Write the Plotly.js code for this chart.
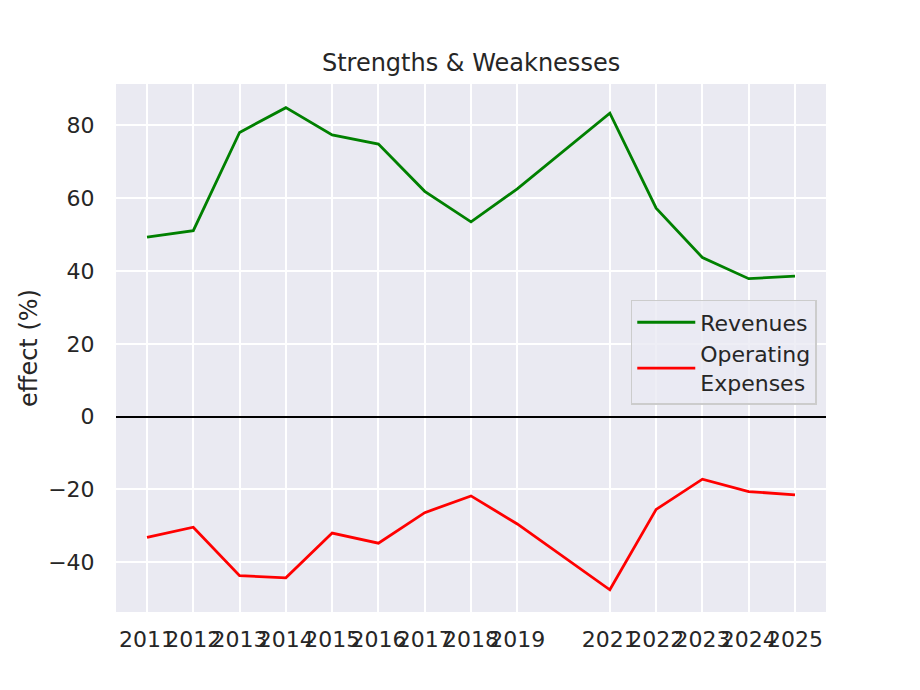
<!DOCTYPE html>
<html>
<head>
<meta charset="utf-8">
<script src="https://cdn.plot.ly/plotly-3.0.1.min.js"></script>
<style>
  html, body { margin: 0; padding: 0; background: #fff; }
  #chart { width: 920px; height: 690px; }
</style>
</head>
<body>
<div id="chart"></div>
<script>
// years shown on the x axis (no 2020 in the data)
const years = [2011, 2012, 2013, 2014, 2015, 2016, 2017, 2018, 2019, 2021, 2022, 2023, 2024, 2025];

// effect in percent
const revenues = [49.3, 51.1, 78.1, 84.9, 77.4, 74.9, 61.9, 53.5, 62.6, 83.4, 57.3, 43.7, 37.9, 38.6];
const operatingExpenses = [-33.2, -30.4, -43.7, -44.3, -32.0, -34.8, -26.4, -21.8, -29.5, -47.6, -25.5, -17.2, -20.6, -21.5];

const textColor = '#262626';
const font = 'DejaVu Sans, sans-serif';

const data = [
  {
    x: years,
    y: revenues,
    type: 'scatter',
    mode: 'lines',
    name: 'Revenues',
    line: { color: 'green', width: 2.8 }
  },
  {
    x: years,
    y: operatingExpenses,
    type: 'scatter',
    mode: 'lines',
    name: 'Operating<br>Expenses',
    line: { color: 'red', width: 2.8 }
  }
];

const layout = {
  width: 920,
  height: 690,
  paper_bgcolor: '#ffffff',
  plot_bgcolor: '#EAEAF2',
  font: { family: font, size: 22, color: textColor },
  margin: { l: 116, r: 94, t: 84, b: 78 },
  title: {
    text: 'Strengths & Weaknesses',
    font: { size: 24, color: textColor },
    x: 0.512,
    xanchor: 'center',
    y: 0.91,
    yanchor: 'middle'
  },
  xaxis: {
    range: [2010.33, 2025.67],
    tickmode: 'array',
    tickvals: years,
    ticktext: years.map(String),
    tickangle: 0,
    showgrid: true,
    gridcolor: '#ffffff',
    gridwidth: 2,
    zeroline: false,
    ticks: 'outside',
    ticklen: 8,
    tickcolor: 'rgba(0,0,0,0)',
    tickfont: { size: 22, color: textColor },
    automargin: false
  },
  yaxis: {
    range: [-53.7, 91.4],
    tickmode: 'linear',
    tick0: 0,
    dtick: 20,
    showgrid: true,
    gridcolor: '#ffffff',
    gridwidth: 2,
    zeroline: true,
    zerolinecolor: '#000000',
    zerolinewidth: 2,
    ticks: 'outside',
    ticklen: 16,
    tickcolor: 'rgba(0,0,0,0)',
    tickfont: { size: 22, color: textColor },
    title: { text: 'effect (%)', font: { size: 24, color: textColor }, standoff: 3 },
    automargin: false
  },
  legend: {
    x: 0.987,
    y: 0.591,
    xanchor: 'right',
    yanchor: 'top',
    bgcolor: 'rgba(234,234,242,0.8)',
    bordercolor: '#cccccc',
    borderwidth: 1.5,
    font: { size: 22, color: textColor },
    itemwidth: 58,
    tracegroupgap: 0
  },
  showlegend: true
};

Plotly.newPlot('chart', data, layout, { displayModeBar: false, staticPlot: true });
</script>
</body>
</html>
